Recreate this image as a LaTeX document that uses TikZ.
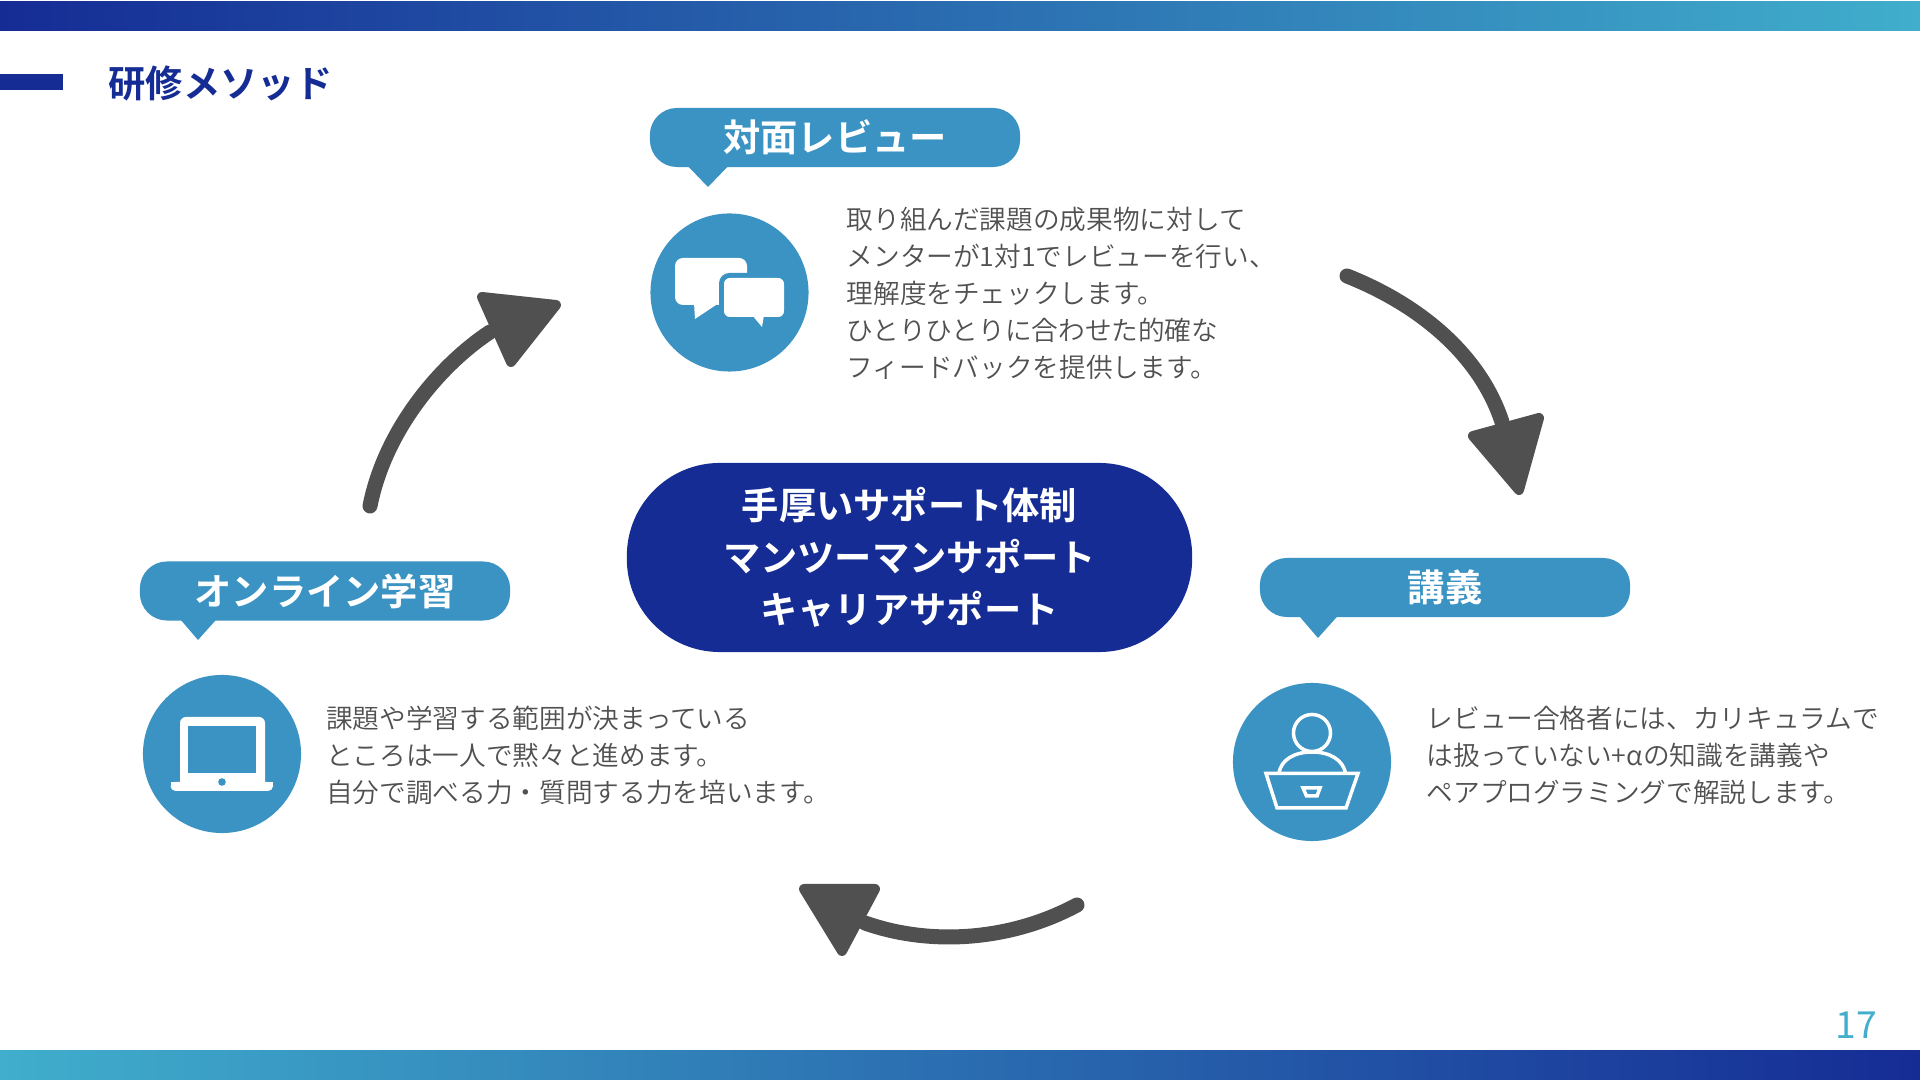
\documentclass[tikz,border=0pt]{standalone}
\usepackage{fontspec}
\setmainfont{Noto Sans CJK JP}
\newfontfamily\lightf[UprightFont=* DemiLight]{Noto Sans CJK JP}
\newfontfamily\boldf[UprightFont=* Bold]{Noto Sans CJK JP}
\definecolor{navy}{HTML}{152C95}
\definecolor{sky}{HTML}{3A93C2}
\definecolor{teal}{HTML}{40AECC}
\definecolor{arrowgray}{HTML}{505050}
\definecolor{bodygray}{HTML}{505050}
\tikzset{
  bubble/.style={fill=sky,text=white,rounded corners=0.27cm,minimum width=3.7cm,minimum height=0.59cm,inner sep=0pt,font=\fontsize{10.6}{12}\boldf},
  iconcircle/.style={circle,fill=sky,minimum size=1.58cm,inner sep=0pt},
  bodytext/.style={anchor=west,align=left,inner sep=0pt,text=bodygray,font=\fontsize{7.58}{10.55}\lightf},
  curve/.style={draw=arrowgray,line width=0.15cm,line cap=round},
  headtip/.style={fill=arrowgray,draw=arrowgray,line width=0.1cm,line join=round},
  iconline/.style={draw=white,line width=0.035cm,fill=none}
}
\begin{document}
\begin{tikzpicture}[x=0.01cm,y=-0.01cm]
\useasboundingbox (0,0) rectangle (1920,1080);
% bars
\shade[left color=navy,right color=teal] (0,2) rectangle (1920,31);
\shade[left color=teal,right color=navy] (0,1051) rectangle (1920,1080);
\fill[navy] (0,74) rectangle (63,90);
\node[anchor=west,inner sep=0pt,text=navy,font=\fontsize{10.6}{12}\boldf] (title) at (108,83) {研修メソッド};
\node[anchor=center,inner sep=0pt,text=teal,font=\fontsize{10.6}{12}\selectfont] (pagenum) at (1856,1025) {17};
% centre
\node[fill=navy,text=white,rounded corners=0.93cm,minimum width=5.65cm,minimum height=1.89cm,inner sep=0pt,align=center,font=\fontsize{10.6}{14.85}\boldf] (centre) at (909.5,557.5) {手厚いサポート体制\\マンツーマンサポート\\キャリアサポート};
% bubbles
\fill[sky] (682,160) -- (708,187) -- (734,160) -- cycle;
\node[bubble] (review) at (835,137.5) {\raisebox{-0.015cm}{対面レビュー}};
\fill[sky] (174,612) -- (198,640) -- (223,612) -- cycle;
\node[bubble] (online) at (325,591) {\raisebox{-0.015cm}{オンライン学習}};
\fill[sky] (1294,610) -- (1318,638) -- (1343,610) -- cycle;
\node[bubble] (lecture) at (1445,587.5) {\raisebox{-0.015cm}{講義}};
% circles
\node[iconcircle] (reviewicon) at (729.5,292.5) {};
\node[iconcircle] (onlineicon) at (222,754) {};
\node[iconcircle] (lectureicon) at (1312,762) {};
% chat icon
\fill[white,rounded corners=0.08cm] (675,258) rectangle (747,305);
\fill[white] (694,303) -- (695,319) -- (719,303) -- cycle;
\draw[sky,fill=white,line width=0.05cm,rounded corners=0.08cm] (721.5,275.5) rectangle (786.5,319.5);
\fill[white,rounded corners=0.07cm] (724,278) rectangle (784,317);
\fill[white] (752,315) -- (762,327) -- (764,315) -- cycle;
% laptop icon
\fill[white,rounded corners=0.06cm] (180,717) rectangle (265,790);
\fill[sky] (188,726) rectangle (256,773);
\fill[white,rounded corners=0.05cm] (170.5,782) rectangle (273,791);
\fill[white] (170.5,782) rectangle (273,786);
\fill[sky] (222,782) circle (0.038cm);
% person icon
\draw[iconline] (1312,733) circle (0.185cm);
\draw[iconline] (1279,773) .. controls (1281,760) and (1294,752) .. (1312,752) .. controls (1330,752) and (1343,760) .. (1345.5,773);
\draw[iconline,line join=miter] (1266,773.5) -- (1358,773.5) -- (1346,808) -- (1277,808) -- cycle;
\draw[iconline,line join=miter] (1303,788) -- (1320,788) -- (1317,796) -- (1306.5,796) -- cycle;
% body text
\node[bodytext] (reviewtext) at (846,293.5) {取り組んだ課題の成果物に対して\\メンターが1対1でレビューを行い、\\理解度をチェックします。\\ひとりひとりに合わせた的確な\\フィードバックを提供します。};
\node[bodytext] (onlinetext) at (325.5,755.5) {課題や学習する範囲が決まっている\\ところは一人で黙々と進めます。\\自分で調べる力・質問する力を培います。};
\node[bodytext] (lecturetext) at (1426,755.5) {レビュー合格者には、カリキュラムで\\は扱っていない+αの知識を講義や\\ペアプログラミングで解説します。};
% arrows
\coordinate (up0) at (370,506);
\coordinate (up1) at (490,332);
\coordinate (right0) at (1347,276);
\coordinate (right1) at (1502,422);
\coordinate (low0) at (1077,905);
\coordinate (low1) at (865,923);
\draw[curve] (up0) .. controls (385,430) and (440,365) .. (up1);
\filldraw[headtip] (482,297) -- (556,305) -- (511,362) -- cycle;
\draw[curve] (right0) .. controls (1420,305) and (1480,355) .. (right1);
\filldraw[headtip] (1473,436) -- (1539,418) -- (1519,490) -- cycle;
\draw[curve] (low0) .. controls (1010,941) and (930,946) .. (low1);
\filldraw[headtip] (804,889) -- (875,889) -- (842,951) -- cycle;
\end{tikzpicture}
\end{document}
